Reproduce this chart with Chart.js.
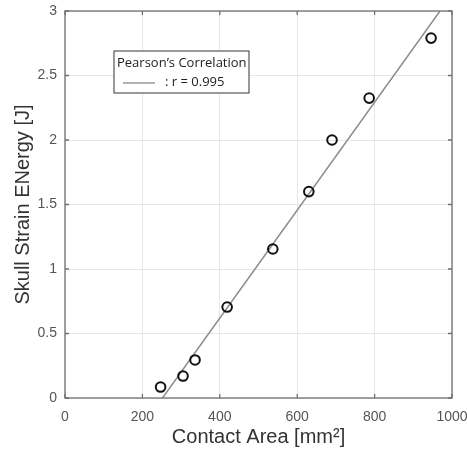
<!DOCTYPE html>
<html>
<head>
<meta charset="utf-8">
<script src="https://cdn.jsdelivr.net/npm/chart.js@4/dist/chart.umd.min.js"></script>
<style>
  html, body { margin: 0; padding: 0; background: #fff; }
  #wrap { width: 467px; height: 450px; position: relative; }
</style>
</head>
<body>
<div id="wrap"><canvas id="scatterChart"></canvas></div>
<script>
// data
const contactArea = [247, 305, 336, 419, 537, 630, 690, 786, 946];
const strainEnergy = [0.085, 0.17, 0.295, 0.705, 1.155, 1.6, 2.0, 2.325, 2.79];
// fitted line ends
const fitX = [252, 969];
const fitY = [0, 3];
const xTicks = [0, 200, 400, 600, 800, 1000];
const yTicks = [0, 0.5, 1, 1.5, 2, 2.5, 3];
const legendTitle = 'Pearson\u2019s Correlation';
const legendLabel = ': r = 0.995';

const ctx = document.getElementById('scatterChart').getContext('2d');

// frame, inward ticks and the legend box
const framePlugin = {
    id: 'frame',
    afterDraw(chart) {
        const c = chart.ctx;
        const a = chart.chartArea;
        const xs = chart.scales.x;
        const ys = chart.scales.y;
        c.save();
        c.strokeStyle = '#707070';
        c.lineWidth = 1.3;
        c.strokeRect(a.left, a.top, a.right - a.left, a.bottom - a.top);
        c.beginPath();
        xTicks.forEach(v => {
            const px = xs.getPixelForValue(v);
            c.moveTo(px, a.bottom); c.lineTo(px, a.bottom - 4);
            c.moveTo(px, a.top); c.lineTo(px, a.top + 4);
        });
        yTicks.forEach(v => {
            const py = ys.getPixelForValue(v);
            c.moveTo(a.left, py); c.lineTo(a.left + 4, py);
            c.moveTo(a.right, py); c.lineTo(a.right - 4, py);
        });
        c.stroke();

        // legend
        const lx = a.left + 49, ly = a.top + 40, lw = 135, lh = 42;
        c.fillStyle = '#fff';
        c.fillRect(lx, ly, lw, lh);
        c.strokeStyle = '#555';
        c.lineWidth = 1.2;
        c.strokeRect(lx, ly, lw, lh);
        c.fillStyle = '#222';
        c.font = '13px "Open Sans"';
        c.textBaseline = 'middle';
        c.fillText(legendTitle, lx + 3, ly + 12);
        c.fillText(legendLabel, lx + 51, ly + 31);
        c.strokeStyle = '#999';
        c.lineWidth = 1.5;
        c.beginPath();
        c.moveTo(lx + 9, ly + 32); c.lineTo(lx + 41, ly + 32);
        c.stroke();
        c.restore();
    }
};

const myChart = new Chart(ctx, {
    type: 'scatter',
    data: {
        datasets: [{
            label: 'fit',
            data: fitX.map((x, i) => ({ x: x, y: fitY[i] })),
            showLine: true,
            borderColor: '#8c8c8c',
            borderWidth: 1.5,
            pointRadius: 0,
            order: 2
        }, {
            label: 'data',
            data: contactArea.map((x, i) => ({ x: x, y: strainEnergy[i] })),
            pointStyle: 'circle',
            pointRadius: 4.8,
            pointBorderWidth: 2,
            pointBorderColor: '#111',
            pointBackgroundColor: 'rgba(0,0,0,0)',
            order: 1
        }]
    },
    options: {
        responsive: true,
        maintainAspectRatio: false,
        animation: false,
        clip: { left: 0, top: 0, right: 0, bottom: 0 },
        layout: { padding: { left: 4, right: 15, top: 11, bottom: 0 } },
        plugins: {
            legend: { display: false },
            tooltip: { enabled: false }
        },
        scales: {
            x: {
                type: 'linear',
                min: 0,
                max: 1000,
                afterBuildTicks: s => { s.ticks = xTicks.map(v => ({ value: v })); },
                afterFit: s => { s.height = 52; s.paddingLeft = 0; s.paddingRight = 0; },
                grid: { color: '#e6e6e6', drawTicks: false },
                border: { display: false },
                ticks: {
                    color: '#555',
                    font: { family: 'Liberation Sans', size: 14 },
                    padding: 11,
                    maxRotation: 0,
                    callback: v => String(v)
                },
                title: {
                    display: true,
                    text: 'Contact Area [mm\u00b2]',
                    color: '#333',
                    font: { family: 'Liberation Sans', size: 20 },
                    padding: { top: 0, bottom: 1 }
                }
            },
            y: {
                type: 'linear',
                min: 0,
                max: 3,
                afterBuildTicks: s => { s.ticks = yTicks.map(v => ({ value: v })); },
                afterFit: s => { s.width = 61; s.paddingTop = 0; s.paddingBottom = 0; },
                grid: { color: '#e6e6e6', drawTicks: false },
                border: { display: false },
                ticks: {
                    color: '#555',
                    font: { family: 'Liberation Sans', size: 14 },
                    padding: 8,
                    callback: v => String(v)
                },
                title: {
                    display: true,
                    text: 'Skull Strain ENergy [J]',
                    color: '#333',
                    font: { family: 'Liberation Sans', size: 20 },
                    padding: { top: 7, bottom: 0 }
                }
            }
        }
    },
    plugins: [framePlugin]
});
myChart.update();
</script>
</body>
</html>
